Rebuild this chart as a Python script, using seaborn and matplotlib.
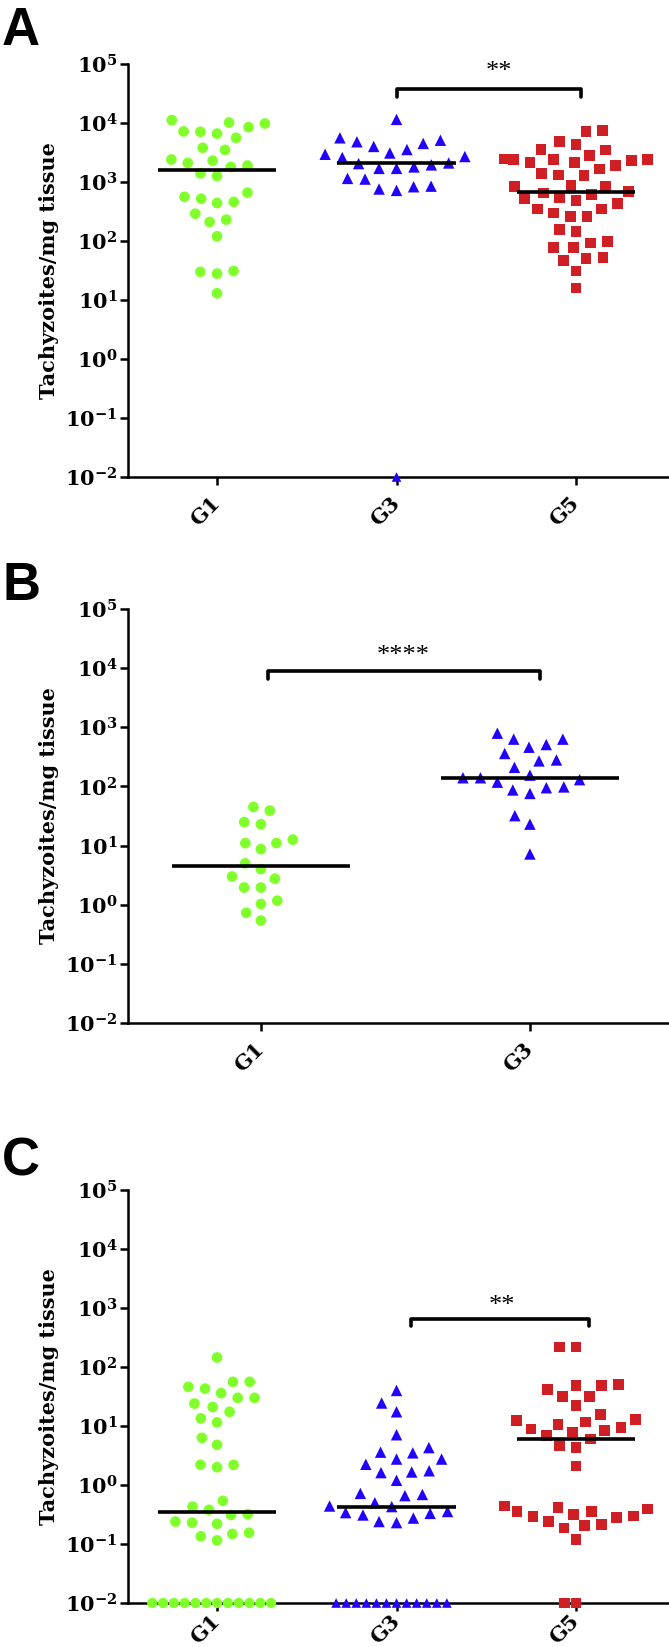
import numpy as np
import pandas as pd
import seaborn as sns
from matplotlib import pyplot as plt
from matplotlib.ticker import FixedLocator, FuncFormatter, NullLocator

sns.set_style("ticks")
plt.rcParams["font.family"] = ["DejaVu Serif"]
plt.rcParams["mathtext.fontset"] = "dejavuserif"
for key in ("text.color", "axes.labelcolor", "xtick.color", "ytick.color",
            "axes.edgecolor"):
    plt.rcParams[key] = "black"

# ---- data (tachyzoites / mg tissue) ----
groups_ac = ["G1", "G3", "G5"]
groups_b = ["G1", "G3"]
decades = [-2, -1, 0, 1, 2, 3, 4, 5]
detection_limit = 0.01  # values drawn on the x axis

a_g1 = [11200, 9800, 7200, 5600, 7100, 6600, 8500, 10200, 3500, 3800,
        2300, 1900, 1400, 1260, 1800, 2100, 2400, 660, 520, 440,
        460, 560, 290, 210, 230, 120, 30, 28, 31, 13]
a_g3 = [11500, 5600, 4800, 4000, 2950, 3100, 3550, 4500, 5100, 2600,
        2050, 1800, 1700, 1700, 1950, 2100, 2700, 1150, 850, 760,
        720, 830, 1120, 0.01]
a_g5 = [7500, 7100, 4800, 4300, 3600, 2800, 3500, 2450, 2400, 2400,
        2150, 1900, 1380, 1290, 1320, 1660, 2150, 2300, 2400, 850,
        850, 870, 540, 480, 650, 620, 690, 520, 350, 260,
        300, 350, 260, 430, 155, 145, 93, 78, 78, 98,
        52, 47, 51, 31, 16]

b_g1 = [45, 39, 25, 23, 11, 11, 12.6, 8.7, 5.0, 4.0,
        3.0, 2.75, 1.95, 1.95, 1.17, 1.03, 0.73, 0.54]
b_g3 = [794, 630, 630, 510, 460, 360, 270, 280, 210, 155,
        140, 140, 130, 118, 95, 98, 87, 76, 32, 23, 7.2]

c_g1 = [145, 56, 56, 46, 43, 36, 30, 30, 24, 21,
        17.4, 11.5, 13.5, 6.3, 4.8, 2.2, 2.0, 2.2, 0.54, 0.43,
        0.38, 0.32, 0.31, 0.24, 0.22, 0.23, 0.155, 0.135, 0.115, 0.148] + [0.01] * 12
c_g3 = [40, 24.5, 17.4, 7.1, 4.3, 3.5, 2.75, 2.75, 2.24, 3.6,
        1.74, 1.62, 1.66, 1.2, 0.72, 0.66, 0.69, 0.44, 0.50, 0.43,
        0.34, 0.31, 0.24, 0.23, 0.275, 0.33, 0.355] + [0.01] * 12
c_g5 = [219, 219, 49, 49, 51, 41, 32, 32, 22, 15.5,
        12.3, 10.7, 11.7, 12.9, 7.9, 8.9, 8.3, 9.5, 6.9, 6.0,
        4.3, 4.7, 2.1, 0.36, 0.32, 0.295, 0.42, 0.44, 0.30, 0.355,
        0.39, 0.214, 0.24, 0.186, 0.28, 0.204, 0.12] + [0.01] * 2

colors = {"G1": "#80FF2A", "G3": "#2200FF", "G5": "#D01F24"}
markers = {"G1": "o", "G3": "^", "G5": "s"}
msize = {"G1": 7.7, "G3": 8.2, "G5": 7.7}
msize_axis = {"G1": 7.4, "G3": 6.9, "G5": 7.7}


def to_frame(data):
    rows = [(g, v) for g, vals in data.items() for v in vals]
    return pd.DataFrame(rows, columns=["group", "value"])


def draw_panel(ax, data, order, xlim, bracket, stars, xpad):
    df = to_frame(data)
    for i, g in enumerate(order):
        sub = df[df["group"] == g]
        above = sub[sub["value"] > detection_limit]
        on_axis = sub[sub["value"] <= detection_limit]
        # the extra (invisible) edge width spreads the swarm like the original
        sns.swarmplot(data=above, x="group", y="value", order=order,
                      color=colors[g], marker=markers[g], size=msize[g],
                      linewidth=3.8, edgecolor="none", log_scale=True,
                      zorder=3, ax=ax)
        if len(on_axis):
            sns.swarmplot(data=on_axis, x="group", y="value", order=order,
                          color=colors[g], marker=markers[g],
                          size=msize_axis[g], linewidth=0, edgecolor="none",
                          log_scale=True, zorder=3, ax=ax)
        ax.hlines(np.median(sub["value"]), i - 0.33, i + 0.33,
                  colors="black", lw=2.6, zorder=5)

    # drop empty scatter collections, let the points on the axis spill over
    for coll in list(ax.collections):
        if len(coll.get_offsets()) == 0:
            coll.remove()
        else:
            coll.set_clip_on(False)

    ax.set_xlim(*xlim)
    ax.set_ylim(1e-2, 1e5)
    ax.yaxis.set_major_locator(FixedLocator([10.0 ** e for e in decades]))
    ax.yaxis.set_minor_locator(NullLocator())
    ax.yaxis.set_major_formatter(FuncFormatter(
        lambda v, p: "$\\mathbf{10^{%d}}$" % int(round(np.log10(v)))))
    ax.set_xticks(range(len(order)), labels=order)
    for lab in ax.get_xticklabels():
        lab.set_rotation(45)
        lab.set_ha("right")
        lab.set_va("center")
        lab.set_rotation_mode("anchor")
        lab.set_fontweight("bold")
    ax.tick_params(axis="y", length=5.5, width=1.8, labelsize=15, pad=2)
    ax.tick_params(axis="x", length=5.5, width=1.8, labelsize=15, pad=xpad)
    ax.set_xlabel("")
    ax.set_ylabel("Tachyzoites/mg tissue", fontsize=15, fontweight="bold")
    ax.yaxis.set_label_coords(-0.128, 0.5)
    sns.despine(ax=ax)
    for s in ("left", "bottom"):
        ax.spines[s].set_linewidth(1.8)

    x0, x1, ytop, yend = bracket
    ax.plot([x0, x0, x1, x1], [yend, ytop, ytop, yend], color="black",
            lw=2.6, clip_on=False, zorder=5)
    sx, sy, label = stars
    ax.text(sx, sy, label, ha="center", va="center", fontsize=19,
            family="Liberation Serif")


fig = plt.figure(figsize=(6.69, 16.47), dpi=100)
W, H = 669, 1647

ax_a = fig.add_axes([128 / W, 1 - 477 / H, 541 / W, 413 / H])
ax_b = fig.add_axes([128 / W, 1 - 1023 / H, 541 / W, 414 / H])
ax_c = fig.add_axes([128 / W, 1 - 1603 / H, 541 / W, 413 / H])

draw_panel(ax_a, {"G1": a_g1, "G3": a_g3, "G5": a_g5}, groups_ac,
           (-0.496, 2.518), (1.0, 2.03, 10 ** 4.58, 10 ** 4.44),
           (1.57, 10 ** 4.86, "**"), 11)
draw_panel(ax_b, {"G1": b_g1, "G3": b_g3}, groups_b,
           (-0.494, 1.517), (0.026, 1.037, 10 ** 3.95, 10 ** 3.81),
           (0.53, 10 ** 4.2, "****"), 11)
draw_panel(ax_c, {"G1": c_g1, "G3": c_g3, "G5": c_g5}, groups_ac,
           (-0.496, 2.518), (1.08, 2.07, 10 ** 2.82, 10 ** 2.69),
           (1.59, 10 ** 3.04, "**"), 5)

for letter, top in (("A", 6), ("B", 561), ("C", 1136)):
    fig.text(2 / W, 1 - top / H, letter, fontsize=38, fontweight="bold",
             family="Liberation Sans", ha="left", va="top")

fig.savefig("out.png", dpi=100)
